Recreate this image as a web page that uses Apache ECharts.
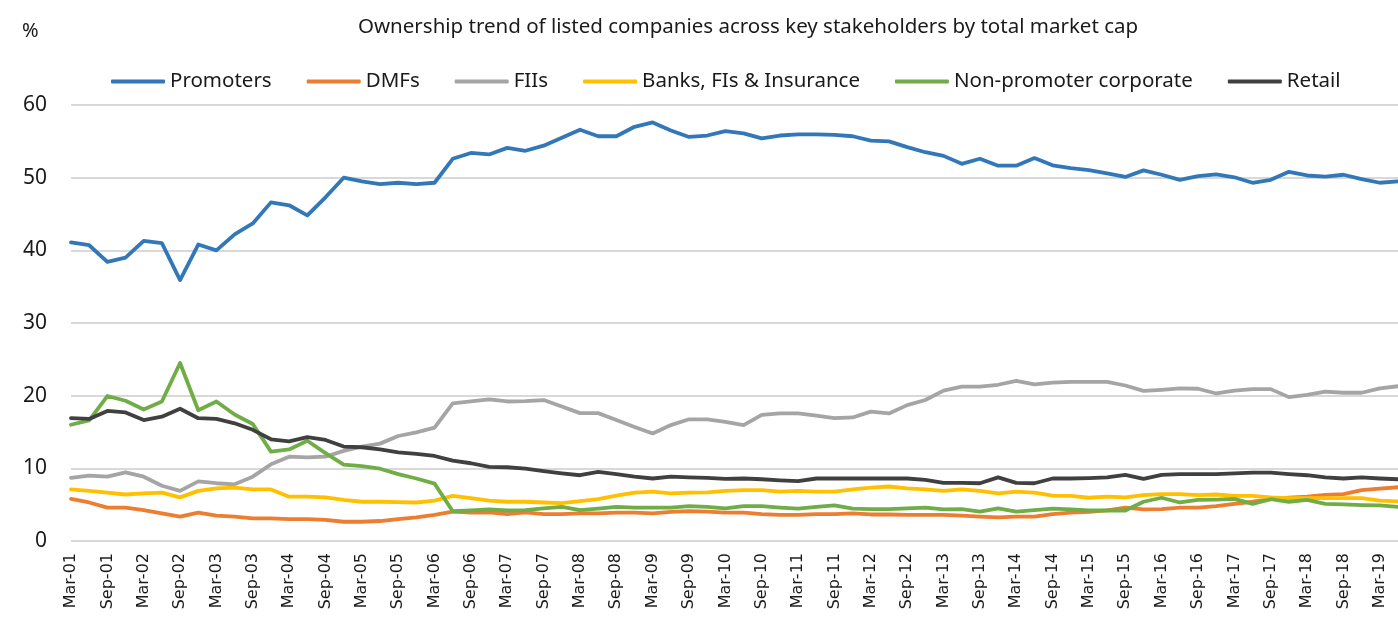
<!DOCTYPE html>
<html>
<head>
<meta charset="utf-8">
<style>
  html, body { margin: 0; padding: 0; background: #fff; }
  #chart { width: 1398px; height: 626px; }
</style>
<script src="https://cdn.jsdelivr.net/npm/echarts@6/dist/echarts.min.js"></script>
</head>
<body>
<div id="chart"></div>
<script>
// Quarter-end dates, Mar-01 through Jun-19
const quarters = [
  'Mar-01','Jun-01','Sep-01','Dec-01','Mar-02','Jun-02','Sep-02','Dec-02',
  'Mar-03','Jun-03','Sep-03','Dec-03','Mar-04','Jun-04','Sep-04','Dec-04',
  'Mar-05','Jun-05','Sep-05','Dec-05','Mar-06','Jun-06','Sep-06','Dec-06',
  'Mar-07','Jun-07','Sep-07','Dec-07','Mar-08','Jun-08','Sep-08','Dec-08',
  'Mar-09','Jun-09','Sep-09','Dec-09','Mar-10','Jun-10','Sep-10','Dec-10',
  'Mar-11','Jun-11','Sep-11','Dec-11','Mar-12','Jun-12','Sep-12','Dec-12',
  'Mar-13','Jun-13','Sep-13','Dec-13','Mar-14','Jun-14','Sep-14','Dec-14',
  'Mar-15','Jun-15','Sep-15','Dec-15','Mar-16','Jun-16','Sep-16','Dec-16',
  'Mar-17','Jun-17','Sep-17','Dec-17','Mar-18','Jun-18','Sep-18','Dec-18',
  'Mar-19','Jun-19'
];

// Share of total market cap held by each stakeholder group (%)
const promoters = [
  41.1, 40.7, 38.4, 39.0, 41.3, 41.0, 35.9, 40.8, 40.0, 42.2,
  43.7, 46.6, 46.2, 44.8, 47.3, 50.0, 49.5, 49.1, 49.3, 49.1,
  49.3, 52.6, 53.4, 53.2, 54.1, 53.7, 54.4, 55.5, 56.6, 55.7,
  55.7, 57.0, 57.6, 56.5, 55.6, 55.8, 56.4, 56.1, 55.4, 55.8,
  55.95, 55.95, 55.9, 55.7, 55.1, 55.0, 54.2, 53.5, 53.0, 51.9,
  52.6, 51.65, 51.65, 52.7, 51.7, 51.3, 51.05, 50.6, 50.1, 51.0,
  50.4, 49.7, 50.2, 50.45, 50.05, 49.3, 49.7, 50.8, 50.3, 50.15,
  50.4, 49.8, 49.3, 49.5
];
const dmfs = [
  5.8, 5.3, 4.6, 4.6, 4.25, 3.8, 3.35, 3.9, 3.5, 3.35,
  3.1, 3.1, 3.0, 3.0, 2.9, 2.65, 2.65, 2.75, 3.0, 3.25,
  3.6, 4.05, 3.9, 3.95, 3.7, 3.95, 3.7, 3.7, 3.8, 3.8,
  3.9, 3.9, 3.8, 4.0, 4.1, 4.05, 3.9, 3.9, 3.7, 3.6,
  3.6, 3.7, 3.7, 3.8, 3.65, 3.65, 3.6, 3.6, 3.6, 3.5,
  3.35, 3.25, 3.35, 3.35, 3.7, 3.9, 4.0, 4.2, 4.6, 4.35,
  4.4, 4.6, 4.6, 4.8, 5.1, 5.4, 5.75, 5.95, 6.1, 6.35,
  6.45, 7.0, 7.2, 7.4
];
const fiis = [
  8.7, 9.0, 8.85, 9.45, 8.85, 7.6, 6.9, 8.2, 7.95, 7.8,
  8.85, 10.55, 11.6, 11.5, 11.6, 12.4, 13.0, 13.4, 14.45, 14.95,
  15.6, 18.95, 19.2, 19.5, 19.2, 19.25, 19.4, 18.5, 17.6, 17.6,
  16.65, 15.7, 14.8, 15.95, 16.75, 16.75, 16.4, 15.95, 17.35, 17.55,
  17.55, 17.25, 16.9, 17.0, 17.8, 17.55, 18.7, 19.4, 20.7, 21.25,
  21.25, 21.5, 22.05, 21.55, 21.8, 21.9, 21.9, 21.9, 21.4, 20.65,
  20.8, 21.0, 20.95, 20.3, 20.7, 20.9, 20.9, 19.8, 20.1, 20.55,
  20.4, 20.4, 21.0, 21.3
];
const banksFiInsurance = [
  7.1, 6.9, 6.65, 6.4, 6.55, 6.65, 6.0, 6.9, 7.25, 7.35,
  7.1, 7.1, 6.1, 6.1, 6.0, 5.65, 5.4, 5.4, 5.35, 5.3,
  5.55, 6.2, 5.9, 5.55, 5.4, 5.4, 5.3, 5.2, 5.5, 5.75,
  6.25, 6.65, 6.8, 6.55, 6.65, 6.7, 6.9, 7.0, 7.0, 6.8,
  6.9, 6.8, 6.8, 7.1, 7.35, 7.5, 7.25, 7.1, 6.9, 7.1,
  6.9, 6.55, 6.8, 6.65, 6.25, 6.2, 5.95, 6.1, 6.0, 6.3,
  6.45, 6.45, 6.3, 6.4, 6.2, 6.2, 6.0, 5.9, 5.9, 5.9,
  5.9, 5.9, 5.55, 5.45
];
const nonPromoterCorporate = [
  16.0, 16.6, 19.95, 19.3, 18.1, 19.2, 24.5, 18.0, 19.2, 17.4,
  16.1, 12.3, 12.6, 13.8, 12.1, 10.5, 10.3, 9.95, 9.2, 8.6,
  7.9, 4.1, 4.2, 4.35, 4.2, 4.25, 4.5, 4.7, 4.25, 4.45,
  4.7, 4.6, 4.6, 4.6, 4.8, 4.7, 4.5, 4.8, 4.8, 4.6,
  4.45, 4.7, 4.9, 4.45, 4.4, 4.4, 4.5, 4.6, 4.35, 4.4,
  4.05, 4.5, 4.05, 4.25, 4.45, 4.35, 4.2, 4.2, 4.2, 5.4,
  5.95, 5.3, 5.65, 5.7, 5.8, 5.1, 5.75, 5.4, 5.65, 5.1,
  5.05, 4.95, 4.9, 4.7
];
const retail = [
  16.9, 16.8, 17.9, 17.7, 16.65, 17.1, 18.2, 16.9, 16.8, 16.2,
  15.3, 14.0, 13.7, 14.3, 13.9, 13.0, 12.9, 12.6, 12.2, 12.0,
  11.7, 11.05, 10.7, 10.2, 10.15, 9.95, 9.6, 9.3, 9.05, 9.5,
  9.2, 8.85, 8.6, 8.85, 8.75, 8.7, 8.55, 8.6, 8.5, 8.35,
  8.25, 8.6, 8.6, 8.6, 8.6, 8.6, 8.6, 8.4, 8.0, 8.0,
  7.95, 8.75, 8.0, 7.95, 8.6, 8.6, 8.65, 8.75, 9.1, 8.55,
  9.1, 9.2, 9.2, 9.2, 9.3, 9.4, 9.4, 9.2, 9.05, 8.75,
  8.6, 8.75, 8.6, 8.5
];

const yTicks = [0, 10, 20, 30, 40, 50, 60];

const seriesDefs = [
  { name: 'Promoters', data: promoters, color: '#3278B9' },
  { name: 'DMFs', data: dmfs, color: '#ED7D31' },
  { name: 'FIIs', data: fiis, color: '#A5A5A5' },
  { name: 'Banks, FIs & Insurance', data: banksFiInsurance, color: '#FFC000' },
  { name: 'Non-promoter corporate', data: nonPromoterCorporate, color: '#70AD47' },
  { name: 'Retail', data: retail, color: '#404040' }
];

const uiFont = '"Noto Sans", Roboto, sans-serif';
const chart = echarts.init(document.getElementById('chart'), null, { renderer: 'canvas' });

chart.setOption({
  animation: false,
  backgroundColor: '#ffffff',
  title: [
    {
      text: 'Ownership trend of listed companies across key stakeholders by total market cap',
      left: 353,
      top: 12,
      textStyle: { fontFamily: uiFont, fontSize: 20.5, fontWeight: 'normal', color: '#1a1a1a' }
    },
    {
      text: '%',
      left: 17,
      top: 16,
      textStyle: { fontFamily: uiFont, fontSize: 20, fontWeight: 'normal', color: '#1a1a1a' }
    }
  ],
  legend: {
    top: 66,
    left: 106,
    itemGap: 35,
    itemWidth: 54,
    itemHeight: 4,
    icon: 'roundRect',
    textStyle: { fontFamily: uiFont, fontSize: 20.5, color: '#1a1a1a' },
    data: seriesDefs.map(s => s.name)
  },
  grid: { left: 71, right: -3, top: 105, bottom: 85, containLabel: false },
  xAxis: {
    type: 'category',
    data: quarters,
    boundaryGap: false,
    axisLine: { show: false },
    axisTick: { show: false },
    splitLine: { show: false },
    axisLabel: {
      interval: 1,
      rotate: 90,
      margin: 12,
      fontFamily: '"DejaVu Sans", sans-serif',
      fontSize: 16,
      color: '#1a1a1a'
    }
  },
  yAxis: {
    type: 'value',
    min: yTicks[0],
    max: yTicks[yTicks.length - 1],
    interval: 10,
    axisLine: { show: false },
    axisTick: { show: false },
    axisLabel: {
      margin: 24,
      fontFamily: uiFont,
      fontSize: 21,
      color: '#1a1a1a'
    },
    splitLine: { lineStyle: { color: '#d9d9d9', width: 2 } }
  },
  series: seriesDefs.map(s => ({
    name: s.name,
    type: 'line',
    data: s.data,
    symbol: 'none',
    smooth: false,
    clip: true,
    color: s.color,
    lineStyle: { color: s.color, width: 3.8, cap: 'round', join: 'round' }
  }))
});
</script>
</body>
</html>
